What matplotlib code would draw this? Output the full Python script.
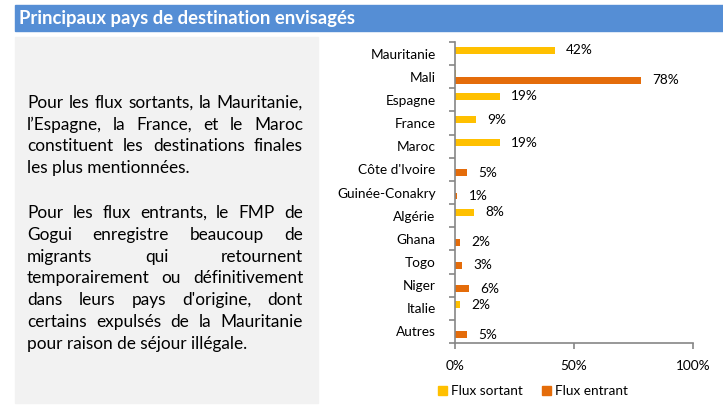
import matplotlib
matplotlib.use("Agg")
import matplotlib.pyplot as plt
from matplotlib.patches import Rectangle, Patch

W, H = 723, 405

pays = ["Mauritanie", "Mali", "Espagne", "France", "Maroc", "Côte d'Ivoire",
        "Guinée-Conakry", "Algérie", "Ghana", "Togo", "Niger", "Italie", "Autres"]
sortant = [42, 0.4, 19, 9, 19, 0, 0, 8, 0, 0, 0, 2, 0]
entrant = [0, 78, 0, 0, 0, 5, 1, 0, 2, 3, 6, 0, 5]
xticks = [0, 50, 100]

titre = "Principaux pays de destination envisagés"
para1 = ["Pour les flux sortants, la Mauritanie,",
         "l’Espagne, la France, et le Maroc",
         "constituent les destinations finales",
         "les plus mentionnées."]
para2 = ["Pour les flux entrants, le FMP de",
         "Gogui enregistre beaucoup de",
         "migrants qui retournent",
         "temporairement ou définitivement",
         "dans leurs pays d'origine, dont",
         "certains expulsés de la Mauritanie",
         "pour raison de séjour illégale."]

JAUNE = "#FFC000"
ORANGE = "#E46C0A"
GRIS = "#868686"
FONT = "Lato"


def fx(px):
    return px / W


def fy(py):
    return 1 - py / H


fig = plt.figure(figsize=(W / 100, H / 100), dpi=100)
fig.patch.set_facecolor("white")

# bandeau titre
fig.patches.append(Rectangle((fx(15), fy(31)), fx(723) - fx(15), fy(5) - fy(31),
                             transform=fig.transFigure, color="#558ED5", zorder=0))
fig.text(fx(19), fy(18.5), titre, color="white", fontsize=13.3, fontweight="bold",
         family=FONT, va="center", ha="left")

# panneau gris
fig.patches.append(Rectangle((fx(15), fy(403)), fx(318) - fx(15), fy(37) - fy(403),
                             transform=fig.transFigure, color="#F2F2F2", zorder=0))

# texte justifie
renderer = fig.canvas.get_renderer()
x0, x1 = 27, 303
size = 12.4


def justify(lines, y_first, lh):
    for i, line in enumerate(lines):
        yb = fy(y_first + i * lh)
        if i == len(lines) - 1:
            fig.text(fx(x0), yb, line, fontsize=size, family=FONT, va="baseline")
            continue
        words = line.split()
        txts = [fig.text(0, yb, w, fontsize=size, family=FONT, va="baseline") for w in words]
        widths = [t.get_window_extent(renderer).width for t in txts]
        gap = (x1 - x0 - sum(widths)) / (len(words) - 1)
        x = x0
        for t, w in zip(txts, widths):
            t.set_x(fx(x))
            x += w + gap


justify(para1, 108, 21.6)
justify(para2, 218, 21.8)

# graphique
ax = fig.add_axes([fx(455), fy(343), fx(693) - fx(455), fy(42) - fy(343)])
ax.set_facecolor("none")
pos = list(range(len(pays)))
h = 0.30
ax.barh([p - h / 2 for p in pos], sortant, height=h, color=JAUNE)
ax.barh([p + h / 2 for p in pos], entrant, height=h, color=ORANGE)

for p, v in zip(pos, sortant):
    if v >= 1:
        ax.annotate(f"{v:.0f}%", (v, p - h / 2), xytext=(8, 0), textcoords="offset points",
                    va="center", ha="left", fontsize=9.8, family=FONT)
for p, v in zip(pos, entrant):
    if v >= 1:
        ax.annotate(f"{v:.0f}%", (v, p + h / 2), xytext=(8, 0), textcoords="offset points",
                    va="center", ha="left", fontsize=9.8, family=FONT)

ax.set_xlim(0, 100)
ax.set_ylim(len(pays) - 0.5, -0.5)
ax.set_xticks(xticks)
ax.set_xticklabels([f"{t}%" for t in xticks], fontsize=9.8, family=FONT)
ax.set_yticks(pos)
ax.set_yticklabels(pays, fontsize=9.8, family=FONT)
ax.tick_params(axis="y", which="major", length=0, pad=14)
ax.set_yticks([p - 0.5 for p in range(len(pays) + 1)], minor=True)
ax.tick_params(axis="y", which="minor", length=4, color=GRIS, width=1.2)
ax.tick_params(axis="x", length=4, color=GRIS, width=1.2, pad=8)
for s in ["top", "right"]:
    ax.spines[s].set_visible(False)
for s in ["left", "bottom"]:
    ax.spines[s].set_color(GRIS)
    ax.spines[s].set_linewidth(1.2)

handles = [Patch(color=JAUNE, label="Flux sortant"), Patch(color=ORANGE, label="Flux entrant")]
fig.legend(handles=handles, loc="center", bbox_to_anchor=(fx(533), fy(391)), ncol=2,
           frameon=False, prop={"family": FONT, "size": 9.8}, handlelength=0.65,
           handleheight=0.65, handletextpad=0.3, columnspacing=1.4)

fig.savefig("out.png", dpi=100)
